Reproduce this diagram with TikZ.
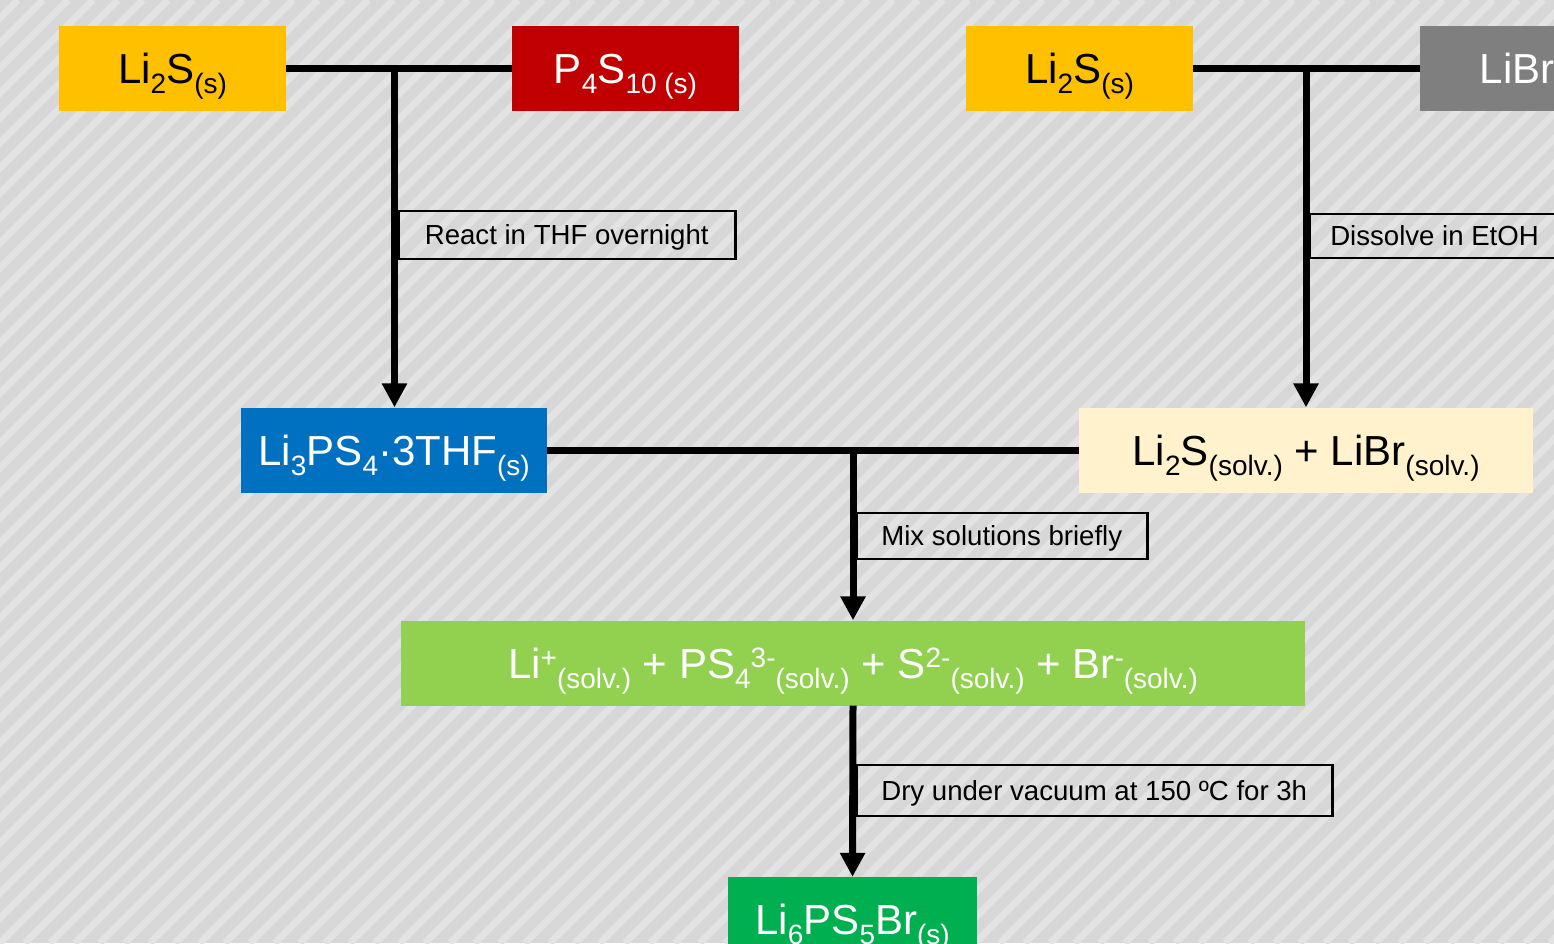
\documentclass[tikz,border=0pt]{standalone}
\usepackage{fontspec}
\setmainfont{Liberation Sans}
\usetikzlibrary{arrows.meta}
\definecolor{cbg}{HTML}{D7D7D7}
\definecolor{cstripe}{HTML}{E3E3E3}
\definecolor{cyellow}{HTML}{FFC000}
\definecolor{cred}{HTML}{C00000}
\definecolor{cgray}{HTML}{7F7F7F}
\definecolor{cblue}{HTML}{0070C0}
\definecolor{ccream}{HTML}{FFF2CC}
\definecolor{clgreen}{HTML}{92D050}
\definecolor{cgreen}{HTML}{00B050}
\newcommand{\dn}[1]{\raisebox{-0.24em}{\fontsize{28}{28}\selectfont #1}}
\newcommand{\up}[1]{\raisebox{0.24em}{\fontsize{28}{28}\selectfont #1}}
\begin{document}
\begin{tikzpicture}[x=1pt,y=-1pt,
  box/.style={rectangle, inner sep=0pt, minimum height=85pt, text height=30pt, text depth=0pt, font=\fontsize{42}{50}\selectfont},
  lbl/.style={draw=black, line width=2.5pt, inner sep=0pt, text height=19.8pt, text depth=0pt, font=\fontsize{27.6}{33}\selectfont, anchor=west},
  conn/.style={line width=7pt, draw=black},
  arr/.style={conn, -{Triangle[width=24pt,length=24pt]}}]
\useasboundingbox (0,0) rectangle (1554,943);
\clip (0,0) rectangle (1554,943);
\fill[cbg] (0,0) rectangle (1554,943);
\foreach \a in {-950,-925,...,1575} \draw[cstripe, line width=7pt] (\a,943) -- ++(943,-943);

\node[box, fill=cyellow, minimum width=227pt] (a) at (172.5,68.5) {Li\dn{2}S\dn{(s)}};
\node[box, fill=cred, text=white, minimum width=227pt] (b) at (625.5,68.5) {P\dn{4}S\dn{10 (s)}};
\node[box, fill=cyellow, minimum width=227pt] (c) at (1079.5,68.5) {Li\dn{2}S\dn{(s)}};
\node[box, fill=cgray, text=white, minimum width=227pt] (d) at (1533.5,68.5) {LiBr\dn{(s)}};
\node[box, fill=cblue, text=white, minimum width=306pt] (e) at (394,450) {Li\dn{3}PS\dn{4}·3THF\dn{(s)}};
\node[box, fill=ccream, minimum width=454pt] (f) at (1306,450) {Li\dn{2}S\dn{(solv.)} + LiBr\dn{(solv.)}};
\node[box, fill=clgreen, text=white, minimum width=904pt] (g) at (853,663) {Li\up{+}\dn{(solv.)} + PS\dn{4}\up{3-}\dn{(solv.)} + S\up{2-}\dn{(solv.)} + Br\up{-}\dn{(solv.)}};
\node[box, fill=cgreen, text=white, minimum width=249pt] (h) at (852.5,919.5) {Li\dn{6}PS\dn{5}Br\dn{(s)}};

\coordinate (j1) at (394.5,68);
\coordinate (j2) at (1306,68);
\coordinate (j3) at (853,450);
\draw[conn] (a.east) -- (b.west);
\draw[conn] (c.east) -- (d.west);
\draw[conn] (e.east) -- (f.west);
\draw[arr] (j1) -- (j1 |- e.north);
\draw[arr] (j2) -- (j2 |- f.north);
\draw[arr] (j3) -- (g.north);
\draw[arr] (g.south) -- (h.north);

\node[lbl, minimum width=337pt, minimum height=48pt] (l1) at (397,235) {React in THF overnight};
\node[lbl, inner xsep=21pt, minimum height=44pt] (l2) at (1308,236) {Dissolve in EtOH};
\node[lbl, minimum width=291pt, minimum height=46pt] (l3) at (855,536) {Mix solutions briefly};
\node[lbl, minimum width=476pt, minimum height=51pt] (l4) at (855,790.5) {Dry under vacuum at 150 ºC for 3h};
\end{tikzpicture}
\end{document}
